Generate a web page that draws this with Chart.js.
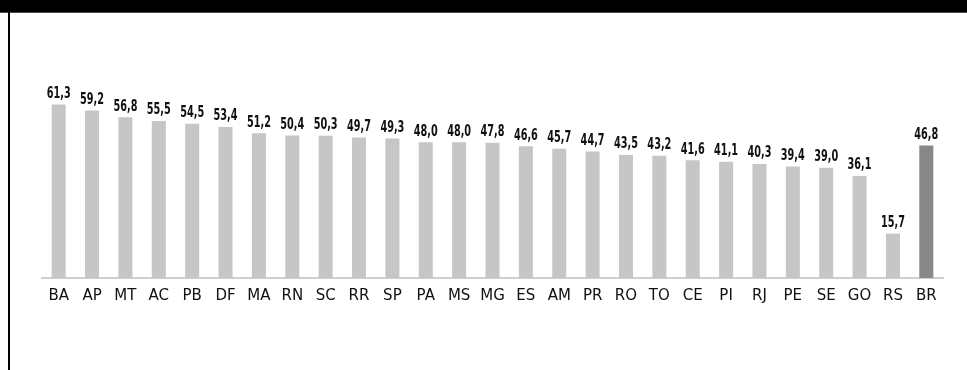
<!DOCTYPE html>
<html>
<head>
<meta charset="utf-8">
<script src="https://cdn.jsdelivr.net/npm/chart.js@4.4.0/dist/chart.umd.min.js"></script>
<style>
  html, body { margin: 0; padding: 0; background: #fff; }
  #wrap { position: relative; width: 967px; height: 370px; overflow: hidden; background: #fff; }
  #c { position: absolute; left: 0; top: 0; }
  #hdr { position: absolute; left: 0; top: 0; width: 967px; height: 12px; background: #000; border-bottom: 1px solid #4a4a4a; }
  #lb { position: absolute; left: 8px; top: 12px; width: 2px; height: 358px; background: #000; }
</style>
</head>
<body>
<div id="wrap">
  <canvas id="c" width="967" height="370"></canvas>
  <div id="hdr"></div>
  <div id="lb"></div>
</div>
<script>
const categories = ["BA","AP","MT","AC","PB","DF","MA","RN","SC","RR","SP","PA","MS","MG","ES","AM","PR","RO","TO","CE","PI","RJ","PE","SE","GO","RS","BR"];
const values = [61.3,59.2,56.8,55.5,54.5,53.4,51.2,50.4,50.3,49.7,49.3,48.0,48.0,47.8,46.6,45.7,44.7,43.5,43.2,41.6,41.1,40.3,39.4,39.0,36.1,15.7,46.8];
const highlight = ["BR"];

const barColors = categories.map(c => highlight.includes(c) ? "#888888" : "#c6c6c6");

const valueLabels = {
  id: "valueLabels",
  afterDatasetsDraw(chart) {
    const ctx = chart.ctx;
    const meta = chart.getDatasetMeta(0);
    const sx = 0.72;
    ctx.save();
    ctx.fillStyle = "#111";
    ctx.font = "bold 15px 'DejaVu Sans Condensed', 'DejaVu Sans', sans-serif";
    ctx.textAlign = "center";
    ctx.textBaseline = "bottom";
    meta.data.forEach((bar, i) => {
      const txt = values[i].toFixed(1).replace(".", ",");
      ctx.save();
      ctx.translate(bar.x, bar.y - 3);
      ctx.scale(sx, 1);
      ctx.fillText(txt, 0, 0);
      ctx.restore();
    });
    ctx.restore();
  }
};

new Chart(document.getElementById("c"), {
  type: "bar",
  data: {
    labels: categories,
    datasets: [{
      data: values,
      backgroundColor: barColors,
      borderWidth: 0,
      barPercentage: 0.42,
      categoryPercentage: 1.0
    }]
  },
  options: {
    responsive: false,
    animation: false,
    devicePixelRatio: 1,
    layout: { padding: { left: 42, right: 24, top: 80, bottom: 0 } },
    plugins: { legend: { display: false }, tooltip: { enabled: false } },
    scales: {
      x: {
        grid: { display: false, drawTicks: false },
        border: { display: true, color: "#cfcfcf", width: 2 },
        ticks: {
          color: "#111",
          padding: 9,
          font: { family: "'DejaVu Sans', sans-serif", size: 15 },
          maxRotation: 0,
          autoSkip: false
        },
        afterFit(s) { s.height = 92; }
      },
      y: {
        display: false,
        min: 0,
        max: 70
      }
    }
  },
  plugins: [valueLabels]
});
</script>
</body>
</html>
